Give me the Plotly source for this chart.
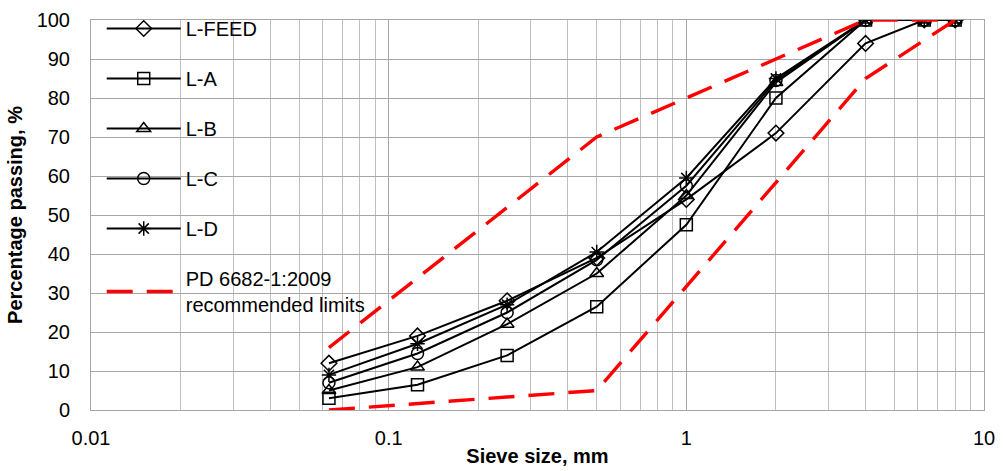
import plotly.graph_objects as go

sieve = [0.063, 0.125, 0.25, 0.5, 1, 2, 4, 6.3, 8]
l_feed = [12, 19, 28, 39, 54, 71, 94, 100, 100]
l_a = [3, 6.5, 14, 26.5, 47.5, 80, 100, 100, 100]
l_b = [5, 11, 22, 35, 55, 84, 100, 100, 100]
l_c = [7, 14.5, 25, 38.5, 57.5, 84.5, 100, 100, 100]
l_d = [9, 17, 27, 40.5, 59.5, 85, 100, 100, 100]

upper_x = [0.063, 0.5, 1, 4, 8]
upper_y = [16, 70, 80, 100, 100]
lower_x = [0.063, 0.5, 4, 8]
lower_y = [0, 5, 85, 100]

series = [
    ("L-FEED", l_feed, "diamond-open"),
    ("L-A", l_a, "square-open"),
    ("L-B", l_b, "triangle-up-open"),
    ("L-C", l_c, "circle-open"),
    ("L-D", l_d, "asterisk-open"),
]

fig = go.Figure()
for i, (name, vals, sym) in enumerate(series):
    fig.add_trace(go.Scatter(
        x=sieve, y=vals, name=name, mode="lines+markers",
        line=dict(color="black", width=2),
        marker=dict(symbol=sym, size=12, color="black",
                    line=dict(color="black", width=1.5)),
        legendgroup=f"g{i}",
    ))

red_line = dict(color="#ff0000", width=3.4, dash="26px,14px")
fig.add_trace(go.Scatter(
    x=upper_x, y=upper_y, mode="lines", line=red_line,
    name="PD 6682-1:2009<br>recommended limits", legendgroup="g5"))
fig.add_trace(go.Scatter(
    x=lower_x, y=lower_y, mode="lines", line=red_line,
    name="lower", legendgroup="g5", showlegend=False))

# margin top 9px; y-axis domain keeps the plot top at 20px
fig.update_layout(
    width=1004, height=471,
    margin=dict(l=91, r=20, t=9, b=61),
    paper_bgcolor="white", plot_bgcolor="white",
    font=dict(family="Liberation Sans, Arial, sans-serif", size=20, color="black"),
    showlegend=True,
    legend=dict(x=0.012, y=1.0, xanchor="left", yanchor="top",
                bgcolor="rgba(0,0,0,0)", itemwidth=74,
                tracegroupgap=21, font=dict(size=20),
                traceorder="grouped"),
)
fig.update_xaxes(
    type="log", range=[-2, 1],
    tickvals=[0.01, 0.1, 1, 10], ticktext=["0.01", "0.1", "1", "10"],
    tickfont=dict(size=20),
    showgrid=True, gridcolor="#a6a6a6", gridwidth=1,
    minor=dict(showgrid=True, gridcolor="#bfbfbf", gridwidth=1,
               tickvals=[m * 10 ** e for e in (-2, -1, 0) for m in range(2, 10)]),
    showline=True, linecolor="#a6a6a6", mirror=True,
    ticks="", ticklabelstandoff=10, automargin=False,
    title=dict(text="<b>Sieve size, mm</b>", standoff=0, font=dict(size=20)),
    zeroline=False,
)
fig.update_yaxes(
    domain=[0, 390 / 401],
    range=[0, 100], dtick=10, tick0=0,
    tickfont=dict(size=20),
    showgrid=True, gridcolor="#a6a6a6", gridwidth=1,
    showline=True, linecolor="#a6a6a6", mirror=True,
    ticks="", ticklabelstandoff=16, automargin=False,
    title=dict(text="<b>Percentage passing, %</b>", standoff=8, font=dict(size=20)),
    zeroline=False,
)

fig.write_html("out.html")
